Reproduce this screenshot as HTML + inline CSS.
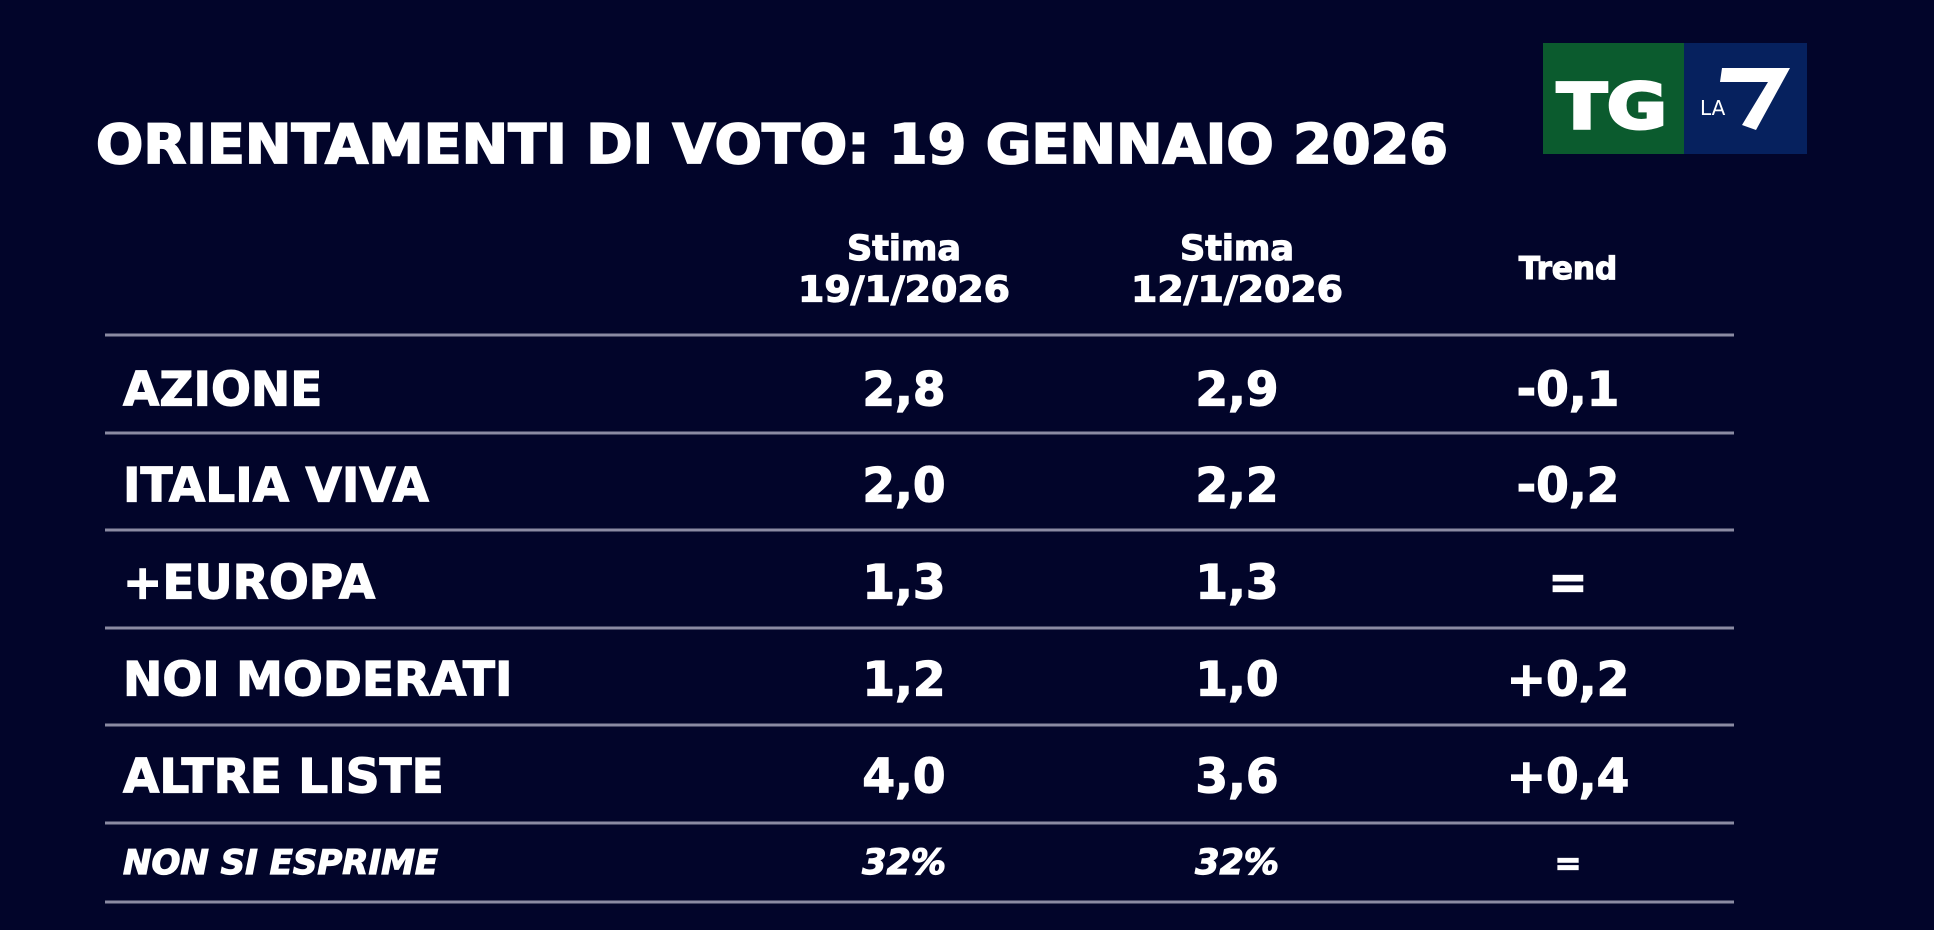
<!DOCTYPE html>
<html><head><meta charset="utf-8"><style>
html,body{margin:0;padding:0;background:#02052a;}
svg{display:block;}
text{font-family:"DejaVu Sans","Liberation Sans",sans-serif;font-weight:bold;fill:#fff;stroke:#fff;stroke-width:1.2;}
</style></head><body>
<svg id="chart" width="1934" height="930" viewBox="0 0 1934 930" xmlns="http://www.w3.org/2000/svg">
<rect width="1934" height="930" fill="#02052a"/>
<text x="96" y="163" font-size="54" textLength="1352" lengthAdjust="spacingAndGlyphs" style="stroke-width:1.8">ORIENTAMENTI DI VOTO: 19 GENNAIO 2026</text>
<g>
<rect x="1543" y="43" width="141" height="111" fill="#0b5b2e"/>
<rect x="1684" y="43" width="123" height="111" fill="#06215e"/>
<text x="1557" y="128" font-size="62" textLength="110" lengthAdjust="spacingAndGlyphs" style="stroke-width:3">TG</text>
<text x="1700" y="115" font-size="20" style="font-weight:normal;stroke-width:0">LA</text>
<path d="M1722 68 L1790 68 L1756 130 L1742 125 L1768 82 L1720 82 Z" fill="#fff"/>
</g>
<g id="head"></g>
<g id="rows"></g>
</svg>
<script>
const parties = ["AZIONE","ITALIA VIVA","+EUROPA","NOI MODERATI","ALTRE LISTE","NON SI ESPRIME"];
const est19 = ["2,8","2,0","1,3","1,2","4,0","32%"];
const est12 = ["2,9","2,2","1,3","1,0","3,6","32%"];
const trend = ["-0,1","-0,2","=","+0,2","+0,4","="];
const NS="http://www.w3.org/2000/svg";
const rowsG=document.getElementById('rows');
const headG=document.getElementById('head');
const colX=[904,1237,1568];
const rowY=[390,486,583,680,777,863];
const lineY=[335,433,530,628,725,823,902];
function txt(g,x,y,s,size,anchor,extra){
  const t=document.createElementNS(NS,'text');
  t.setAttribute('x',x);t.setAttribute('y',y);t.setAttribute('font-size',size);
  t.setAttribute('text-anchor',anchor);t.setAttribute('dominant-baseline','central');
  if(extra){for(const k in extra)t.setAttribute(k,extra[k]);}
  t.textContent=s;g.appendChild(t);return t;
}
let h;
h=txt(headG,colX[0],249,"Stima",35,"middle");


h=txt(headG,colX[0],290,"19/1/2026",36,"middle",{textLength:212,lengthAdjust:'spacingAndGlyphs'});


h=txt(headG,colX[1],249,"Stima",35,"middle");


h=txt(headG,colX[1],290,"12/1/2026",36,"middle",{textLength:212,lengthAdjust:'spacingAndGlyphs'});


h=txt(headG,colX[2],269,"Trend",31,"middle");


lineY.forEach((y,i)=>{
  const l=document.createElementNS(NS,'rect');
  l.setAttribute('x',105);l.setAttribute('y',y-1.5);l.setAttribute('width',1629);l.setAttribute('height',3);
  l.setAttribute('fill','#8b8ba3');
  
  
  rowsG.appendChild(l);
});
parties.forEach((p,i)=>{
  const last=i===parties.length-1;
  const ex=last?{'font-style':'italic','fill':'#dcdce6','stroke':'#dcdce6'}:{};
  let t=txt(rowsG,123,rowY[i],p,last?34:47,"start",ex);
  
  
  t=txt(rowsG,colX[0],rowY[i],est19[i],last?35:47,"middle",ex);
  
  
  t=txt(rowsG,colX[1],rowY[i],est12[i],last?35:47,"middle",ex);
  
  
  t=txt(rowsG,colX[2],rowY[i],trend[i],last?32:47,"middle",ex);
  
  
});
</script>
</body></html>
